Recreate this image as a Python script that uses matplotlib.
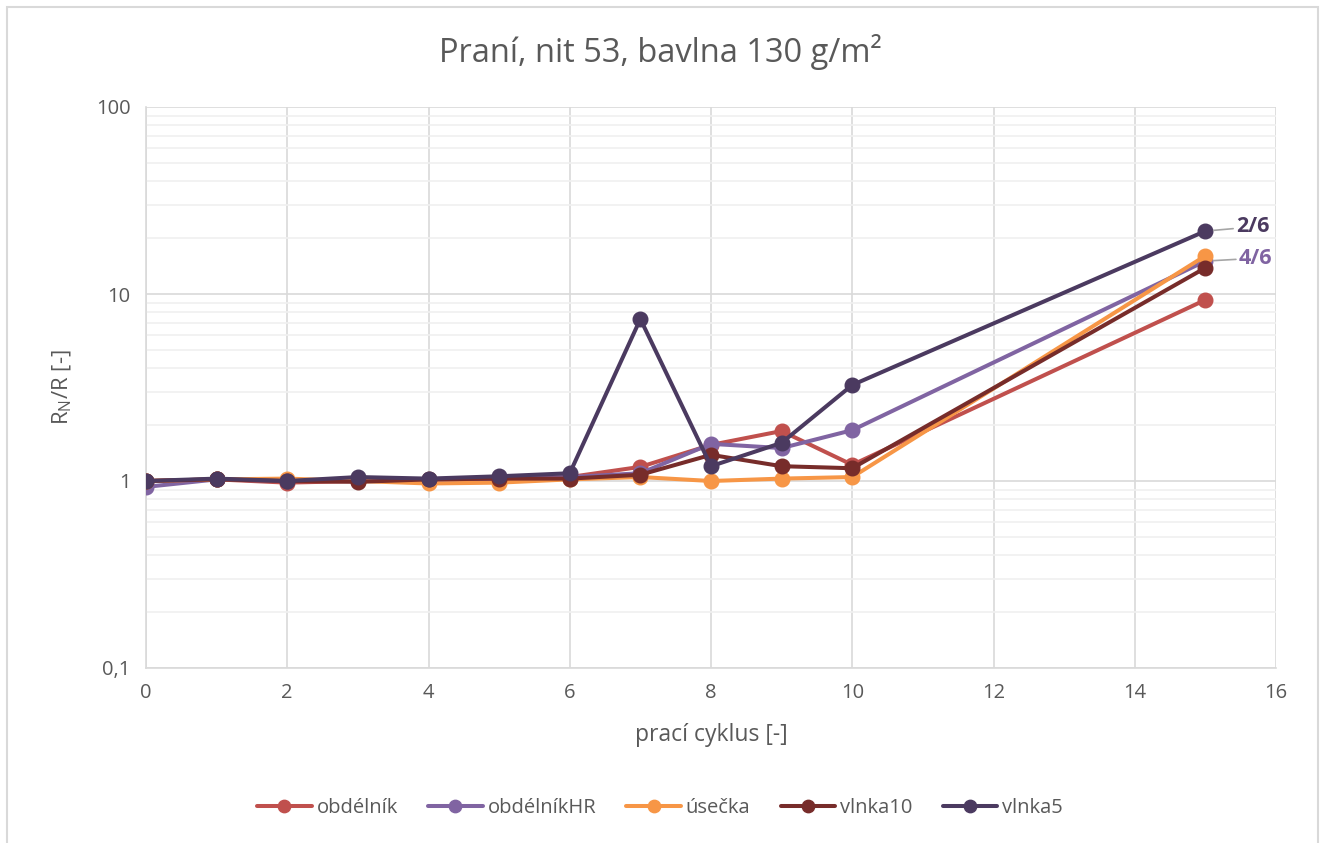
import matplotlib.pyplot as plt
from matplotlib.patches import Rectangle
from matplotlib.ticker import FixedLocator, FixedFormatter, LogLocator, NullFormatter

plt.rcParams['font.family'] = ['Open Sans', 'DejaVu Sans']
plt.rcParams['mathtext.fontset'] = 'custom'
plt.rcParams['mathtext.rm'] = 'Open Sans'
plt.rcParams['mathtext.it'] = 'Open Sans'

cycles = [0, 1, 2, 3, 4, 5, 6, 7, 8, 9, 10, 15]
obdelnik = [1.0, 1.02, 0.98, 1.0, 1.0, 1.02, 1.05, 1.19, 1.56, 1.85, 1.22, 9.3]
obdelnik_hr = [0.93, 1.02, 1.0, 1.02, 1.0, 1.03, 1.05, 1.1, 1.58, 1.5, 1.87, 15.0]
usecka = [1.0, 1.02, 1.03, 1.0, 0.97, 0.98, 1.02, 1.05, 1.0, 1.03, 1.05, 16.0]
vlnka10 = [1.0, 1.02, 1.0, 0.99, 1.02, 1.03, 1.03, 1.08, 1.38, 1.2, 1.17, 13.8]
vlnka5 = [1.0, 1.03, 1.0, 1.05, 1.03, 1.06, 1.1, 7.35, 1.2, 1.6, 3.26, 21.7]

names = ['obdélník', 'obdélníkHR', 'úsečka', 'vlnka10', 'vlnka5']
colors = ['#C0504D', '#8064A2', '#F79646', '#772C2A', '#4B3A60']
series = [obdelnik, obdelnik_hr, usecka, vlnka10, vlnka5]

y_ticks = [0.1, 1, 10, 100]
y_labels = ['0,1', '1', '10', '100']

text_col = '#595959'

fig = plt.figure(figsize=(13.2, 8.43), dpi=100)
ax = fig.add_axes([146 / 1320, 1 - 668 / 843, (1276 - 146) / 1320, (668 - 107) / 843])

for vals, name, col in zip(series, names, colors):
    ax.plot(cycles, vals, color=col, lw=2.9, marker='o', markersize=10.5,
            label=name, solid_capstyle='round', zorder=3)

# data labels at the last point
ax.annotate('2/6', xy=(cycles[-1], vlnka5[-1]), xytext=(22, 3), textcoords='offset points',
            color=colors[4], fontsize=15.5, fontweight='bold', va='center',
            arrowprops=dict(arrowstyle='-', color='#A6A6A6', lw=1.2, shrinkA=0, shrinkB=6))
ax.annotate('4/6', xy=(cycles[-1], obdelnik_hr[-1]), xytext=(24, 2), textcoords='offset points',
            color=colors[1], fontsize=15.5, fontweight='bold', va='center',
            arrowprops=dict(arrowstyle='-', color='#A6A6A6', lw=1.2, shrinkA=0, shrinkB=6))

ax.set_yscale('log')
ax.set_ylim(0.1, 100)
ax.set_xlim(0, 16)
ax.set_xticks(range(0, 17, 2))
ax.yaxis.set_major_locator(FixedLocator(y_ticks))
ax.yaxis.set_major_formatter(FixedFormatter(y_labels))
ax.yaxis.set_minor_locator(LogLocator(base=10, subs=range(2, 10)))
ax.yaxis.set_minor_formatter(NullFormatter())

ax.grid(which='major', color='#D9D9D9', lw=1.2)
ax.grid(which='minor', axis='y', color='#F0F0F0', lw=1.2)
ax.set_axisbelow(True)
for side in ['top', 'right']:
    ax.spines[side].set_visible(False)
for side in ['left', 'bottom']:
    ax.spines[side].set_color('#D9D9D9')
    ax.spines[side].set_linewidth(1.2)
ax.tick_params(which='both', length=0, labelsize=14.5, colors=text_col, pad=11)

ax.set_xlabel('prací cyklus [-]', fontsize=16.5, color=text_col, labelpad=14)
ax.set_ylabel(r'$\mathregular{R_N}$/R [-]', fontsize=16, color=text_col, labelpad=16)

fig.text(0.5, 1 - 52 / 843, 'Praní, nit 53, bavlna 130 g/m²', ha='center', va='center',
         fontsize=23.5, color=text_col)

fig.legend(loc='center', bbox_to_anchor=(0.5, 1 - 808 / 843), ncol=5, frameon=False,
           fontsize=14.5, labelcolor=text_col, handlelength=2.7, columnspacing=1.5,
           handletextpad=0.25, markerscale=0.85)

fig.patches.append(Rectangle((7 / 1320, -0.01), (1318 - 7) / 1320, 1.01 - 7 / 843,
                             transform=fig.transFigure, fill=False,
                             edgecolor='#D9D9D9', lw=1.5))

fig.savefig('out.png', dpi=100)
